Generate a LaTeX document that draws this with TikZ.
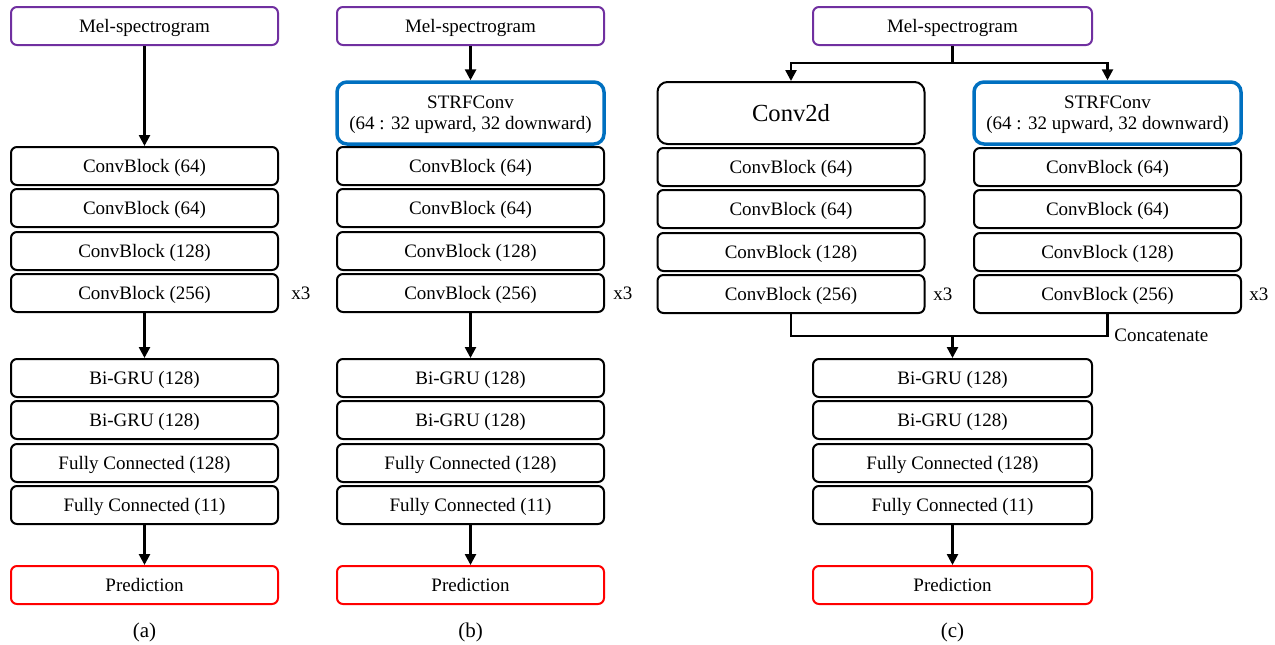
\documentclass[tikz,border=0pt]{standalone}
\usepackage{fontspec}
\setmainfont{Liberation Serif}
\usetikzlibrary{arrows.meta}
\definecolor{mpurple}{RGB}{112,48,160}
\definecolor{mblue}{RGB}{0,112,192}
\definecolor{mred}{RGB}{255,0,0}
\begin{document}
\begin{tikzpicture}[x=0.5pt,y=-0.5pt,
  box/.style={draw, line width=1pt, rounded corners=3pt, minimum width=133.5pt, minimum height=19pt, inner sep=0pt, text depth=0pt, font=\fontsize{9.5}{10.5}\selectfont, align=center},
  wbox/.style={box, minimum width=139.5pt},
  melbox/.style={box, draw=mpurple},
  predbox/.style={box, draw=mred},
  strfbox/.style={box, draw=mblue, line width=1.75pt, rounded corners=5pt, minimum height=31pt},
  bigbox/.style={box, rounded corners=5pt, minimum height=31pt, font=\fontsize{12.3}{14}\selectfont},
  conn/.style={line width=1.25pt, -{Triangle[length=5.5pt,width=5.5pt]}},
  plain/.style={line width=1.25pt},
  lbl/.style={font=\fontsize{9.5}{11}\selectfont, inner sep=0pt},
  captxt/.style={font=\fontsize{10.5}{12}\selectfont, inner sep=0pt}]
\useasboundingbox (0,0) rectangle (1275,644);
% ---------- (a) ----------
\node[melbox] (amel) at (144.5,26) {Mel-spectrogram};
\node[box] (ac1) at (144.5,166) {ConvBlock (64)};
\node[box] (ac2) at (144.5,208) {ConvBlock (64)};
\node[box] (ac3) at (144.5,251) {ConvBlock (128)};
\node[box] (ac4) at (144.5,293) {ConvBlock (256)};
\node[lbl, anchor=west] (ax3) at (291,293) {x3};
\node[box] (ag1) at (144.5,378) {Bi-GRU (128)};
\node[box] (ag2) at (144.5,420) {Bi-GRU (128)};
\node[box] (af1) at (144.5,463) {Fully Connected (128)};
\node[box] (af2) at (144.5,505) {Fully Connected (11)};
\node[predbox] (apr) at (144.5,585) {Prediction};
\node[captxt] (acap) at (144.5,632) {(a)};
\draw[conn] (amel.south) -- (ac1.north);
\draw[conn] (ac4.south) -- (ag1.north);
\draw[conn] (af2.south) -- (apr.north);
% ---------- (b) ----------
\node[melbox] (bmel) at (470.5,26) {Mel-spectrogram};
\node[strfbox] (bstrf) at (470.5,113) {STRFConv\\(64 : 32 upward, 32 downward)};
\node[box] (bc1) at (470.5,166) {ConvBlock (64)};
\node[box] (bc2) at (470.5,208) {ConvBlock (64)};
\node[box] (bc3) at (470.5,251) {ConvBlock (128)};
\node[box] (bc4) at (470.5,293) {ConvBlock (256)};
\node[lbl, anchor=west] (bx3) at (613,293) {x3};
\node[box] (bg1) at (470.5,378) {Bi-GRU (128)};
\node[box] (bg2) at (470.5,420) {Bi-GRU (128)};
\node[box] (bf1) at (470.5,463) {Fully Connected (128)};
\node[box] (bf2) at (470.5,505) {Fully Connected (11)};
\node[predbox] (bpr) at (470.5,585) {Prediction};
\node[captxt] (bcap) at (470.5,632) {(b)};
\draw[conn] (bmel.south) -- (bstrf.north);
\draw[conn] (bc4.south) -- (bg1.north);
\draw[conn] (bf2.south) -- (bpr.north);
% ---------- (c) ----------
\node[melbox, minimum width=139.5pt] (cmel) at (952.5,26) {Mel-spectrogram};
\node[bigbox] (cconv) at (791,113) {Conv2d};
\node[strfbox] (cstrf) at (1107.5,113) {STRFConv\\(64 : 32 upward, 32 downward)};
\node[box] (cl1) at (791,167) {ConvBlock (64)};
\node[box] (cl2) at (791,209) {ConvBlock (64)};
\node[box] (cl3) at (791,252) {ConvBlock (128)};
\node[box] (cl4) at (791,294) {ConvBlock (256)};
\node[lbl, anchor=west] (clx3) at (933,294) {x3};
\node[box] (cr1) at (1107.5,167) {ConvBlock (64)};
\node[box] (cr2) at (1107.5,209) {ConvBlock (64)};
\node[box] (cr3) at (1107.5,252) {ConvBlock (128)};
\node[box] (cr4) at (1107.5,294) {ConvBlock (256)};
\node[lbl, anchor=west] (crx3) at (1249,294) {x3};
\coordinate (split) at (952.5,63);
\coordinate (merge) at (952.5,336);
\node[lbl, anchor=west] (concat) at (1114,335) {Concatenate};
\node[wbox] (cg1) at (952.5,378) {Bi-GRU (128)};
\node[wbox] (cg2) at (952.5,420) {Bi-GRU (128)};
\node[wbox] (cf1) at (952.5,463) {Fully Connected (128)};
\node[wbox] (cf2) at (952.5,505) {Fully Connected (11)};
\node[predbox, minimum width=139.5pt] (cpr) at (952.5,585) {Prediction};
\node[captxt] (ccap) at (952.5,632) {(c)};
\draw[plain] (cmel.south) -- (split);
\draw[conn] (split) -| (cconv.north);
\draw[conn] (split) -| (cstrf.north);
\draw[plain] (cl4.south) |- (merge) -| (cr4.south);
\draw[conn] (merge) -- (cg1.north);
\draw[conn] (cf2.south) -- (cpr.north);
\end{tikzpicture}
\end{document}
